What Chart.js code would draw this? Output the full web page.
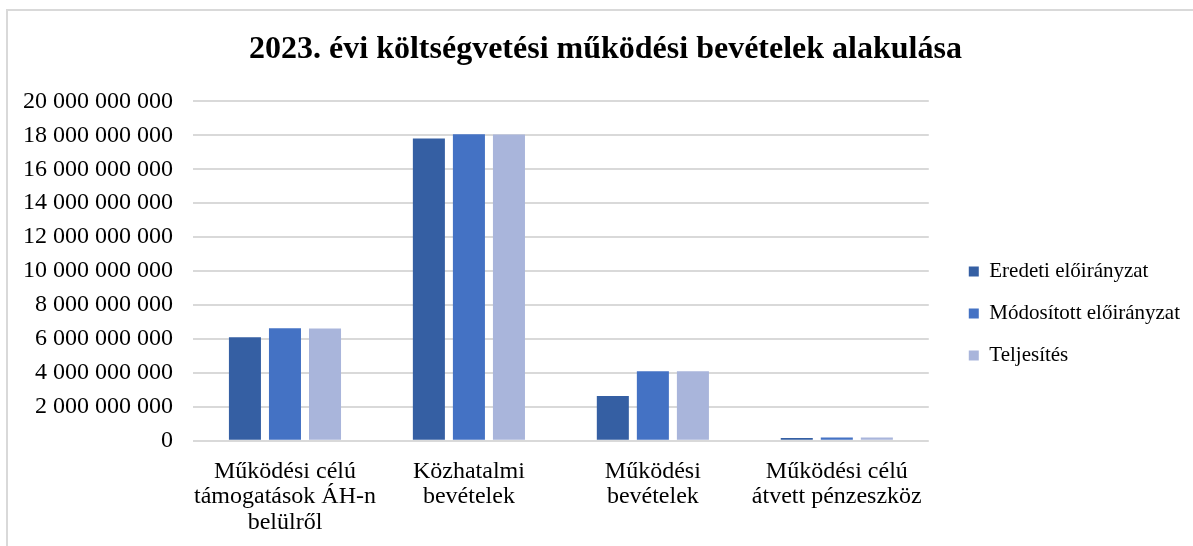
<!DOCTYPE html>
<html>
<head>
<meta charset="utf-8">
<script src="https://cdn.jsdelivr.net/npm/chart.js@4.4.0/dist/chart.umd.min.js"></script>
<style>
  html, body { margin: 0; padding: 0; background: #fff; overflow: hidden; }
  #frame { position: absolute; left: 6px; top: 9px; width: 1300px; height: 700px; border: 2px solid #d9d9d9; box-sizing: border-box; }
  #wrap { position: absolute; left: 0; top: 0; width: 1193px; height: 546px; }
</style>
</head>
<body>
<div id="frame"></div>
<div id="wrap"><canvas id="c" width="1193" height="546"></canvas></div>
<script>
const chartTitle = '2023. évi költségvetési működési bevételek alakulása';
const categories = [
  ['Működési célú', 'támogatások ÁH-n', 'belülről'],
  ['Közhatalmi', 'bevételek'],
  ['Működési', 'bevételek'],
  ['Működési célú', 'átvett pénzeszköz']
];
const seriesNames = ['Eredeti előirányzat', 'Módosított előirányzat', 'Teljesítés'];
const eredeti = [6100000000, 17820000000, 2630000000, 160000000];
const modositott = [6630000000, 18060000000, 4100000000, 190000000];
const teljesites = [6620000000, 18050000000, 4100000000, 190000000];
const yMin = 0, yMax = 20000000000, yStep = 2000000000;
const colors = ['#355FA3', '#4472C4', '#A9B5DB'];

function fmt(v) { return String(Math.round(v)).replace(/\B(?=(\d{3})+(?!\d))/g, ' '); }

// nudge the legend right (gap after the plot area) and centre the title like the original
const boxShift = {
  id: 'boxShift',
  afterLayout(chart) {
    const lg = chart.legend;
    if (lg) { lg.left += 19; lg.right += 19; }
    const tb = chart.titleBlock;
    if (tb) { tb.left += 11; tb.right += 11; }
  }
};

const serif = '"Liberation Serif", "Times New Roman", serif';
new Chart(document.getElementById('c'), {
  type: 'bar',
  data: {
    labels: categories,
    datasets: [
      { label: seriesNames[0], data: eredeti, backgroundColor: colors[0] },
      { label: seriesNames[1], data: modositott, backgroundColor: colors[1] },
      { label: seriesNames[2], data: teljesites, backgroundColor: colors[2] }
    ]
  },
  plugins: [boxShift],
  options: {
    responsive: false,
    animation: false,
    events: [],
    categoryPercentage: 0.653,
    barPercentage: 0.8,
    layout: { padding: { left: 18, right: 22, top: 0, bottom: 1 } },
    plugins: {
      title: {
        display: true, text: chartTitle, color: '#000',
        font: { family: serif, size: 32, weight: 'bold' },
        padding: { top: 31, bottom: 32 }
      },
      legend: {
        position: 'right',
        title: { display: true, text: ' ', font: { size: 1 }, padding: { top: 81, bottom: 0 } },
        labels: {
          color: '#000', boxWidth: 10, boxHeight: 10, padding: 21,
          font: { family: serif, size: 21 }
        }
      },
      tooltip: { enabled: false }
    },
    scales: {
      x: {
        grid: { display: false },
        border: { display: false },
        ticks: { color: '#000', font: { family: serif, size: 24, lineHeight: 1.06 }, padding: 10, maxRotation: 0, autoSkip: false }
      },
      y: {
        min: yMin, max: yMax,
        afterFit: (s) => { s.width = 175; },
        grid: { color: '#d9d9d9', lineWidth: 2, drawTicks: false },
        border: { display: false },
        ticks: { stepSize: yStep, color: '#000', font: { family: serif, size: 24 }, padding: 20, callback: (v) => fmt(v) }
      }
    }
  }
});
</script>
</body>
</html>
